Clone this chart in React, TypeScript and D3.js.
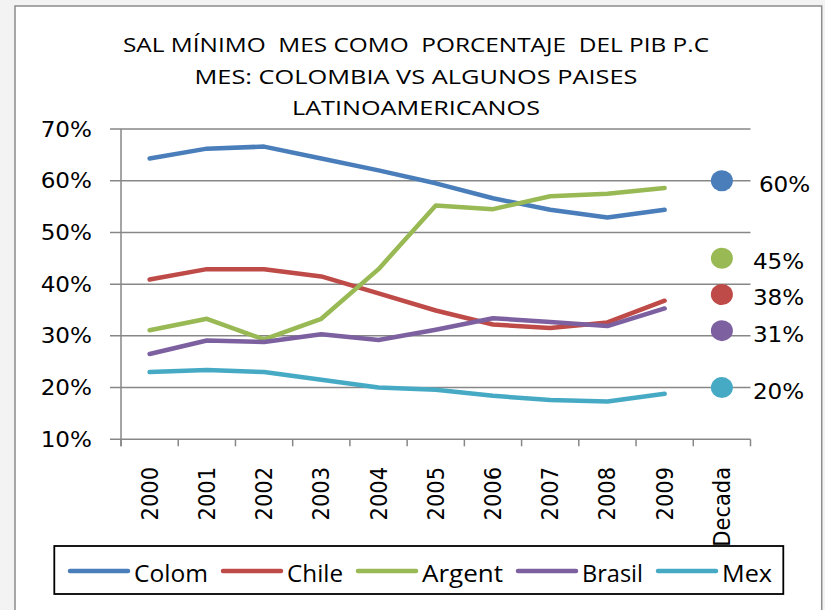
import * as d3 from "d3";

// categorias del eje x
const years = ["2000", "2001", "2002", "2003", "2004", "2005", "2006", "2007", "2008", "2009"];
const categories = [...years, "Decada"];

// valores en %
const colom = [64.3, 66.2, 66.6, 64.3, 62.0, 59.5, 56.6, 54.4, 52.9, 54.4];
const chile = [40.9, 42.9, 42.9, 41.5, 38.2, 34.9, 32.2, 31.5, 32.6, 36.8];
const argent = [31.1, 33.3, 29.3, 33.3, 42.9, 55.2, 54.5, 57.0, 57.5, 58.6];
const brasil = [26.5, 29.1, 28.8, 30.3, 29.2, 31.2, 33.4, 32.7, 31.9, 35.3];
const mex = [23.0, 23.4, 23.0, 21.5, 20.0, 19.6, 18.4, 17.6, 17.3, 18.8];

const seriesNames = ["Colom", "Chile", "Argent", "Brasil", "Mex"];
const seriesColors = ["#4a7ebb", "#be4b48", "#98b954", "#7d60a0", "#46aac5"];

// promedio de la decada (puntos a la derecha)
const decadaNames = ["Colom", "Argent", "Chile", "Brasil", "Mex"];
const decadaValues = [60, 45, 38, 31, 20];

const yTicks = [10, 20, 30, 40, 50, 60, 70];

const titleLines = [
  "SAL MÍNIMO  MES COMO  PORCENTAJE  DEL PIB P.C",
  "MES: COLOMBIA VS ALGUNOS PAISES",
  "LATINOAMERICANOS",
];
const titleWidths = [586, 443, 248];

const legendTextWidths = [74, 56, 81, 61, 50];

export default function App() {
  const width = 825;
  const height = 610;
  const grid = "#878787";
  const axisFont = "'DejaVu Sans', Verdana, sans-serif";
  const textFont = "'Open Sans', 'Noto Sans', sans-serif";

  const x = d3.scaleBand().domain(categories).range([121, 750.5]);
  const y = d3.scaleLinear().domain([10, 70]).range([439.3, 129]);
  const cx = (c: string) => (x(c) as number) + x.bandwidth() / 2;

  const line = d3
    .line<number>()
    .x((_, i) => cx(years[i]))
    .y((d) => y(d));

  const series = [colom, chile, argent, brasil, mex];

  // posiciones de la leyenda (acumuladas)
  const legendLine = 58;
  const legendItems: { x: number; name: string; color: string; w: number }[] = [];
  let lx = 70;
  seriesNames.forEach((name, i) => {
    legendItems.push({ x: lx, name, color: seriesColors[i], w: legendTextWidths[i] });
    lx += legendLine + 6 + legendTextWidths[i] + 15;
  });

  return (
    <svg
      width={width}
      height={height}
      style={{ position: "absolute", left: 0, top: 0 }}
    >
      <rect x={0} y={0} width={width} height={height} fill="#f3f3f3" />
      <rect
        x={15}
        y={6}
        width={806.7}
        height={640}
        fill="#ffffff"
        stroke="#8c8c8c"
        strokeWidth={1.5}
      />

      {/* titulo */}
      {titleLines.map((t, i) => (
        <text
          key={i}
          x={416}
          y={52 + i * 31.5}
          textAnchor="middle"
          fontFamily={textFont}
          fontSize={20}
          textLength={titleWidths[i]}
          lengthAdjust="spacingAndGlyphs"
          fill="#000"
          style={{ whiteSpace: "pre" }}
        >
          {t}
        </text>
      ))}

      {/* grilla y eje y */}
      {yTicks.map((t) => (
        <g key={t}>
          <line x1={110} x2={750.5} y1={y(t)} y2={y(t)} stroke={grid} strokeWidth={1.5} />
          <text
            transform={`translate(92,${y(t) + 7.5}) scale(1.1,1)`}
            textAnchor="end"
            fontFamily={axisFont}
            fontSize={21}
            fill="#000"
          >
            {t}%
          </text>
        </g>
      ))}
      <line x1={121} x2={121} y1={y(70)} y2={y(10) + 7} stroke={grid} strokeWidth={1.5} />

      {/* eje x */}
      {[...categories.map((c) => x(c) as number), 750.5].map((px, i) => (
        <line key={i} x1={px} x2={px} y1={y(10)} y2={y(10) + 7} stroke={grid} strokeWidth={1.5} />
      ))}
      {categories.map((c) => (
        <text
          key={c}
          transform={`translate(${cx(c) + 8},467) rotate(-90) scale(1,1.1)`}
          textAnchor="end"
          fontFamily={axisFont}
          fontSize={21}
          fill="#000"
        >
          {c}
        </text>
      ))}

      {/* series */}
      {series.map((s, i) => (
        <path
          key={seriesNames[i]}
          d={line(s) as string}
          fill="none"
          stroke={seriesColors[i]}
          strokeWidth={4.5}
          strokeLinecap="round"
          strokeLinejoin="round"
        />
      ))}

      {/* decada */}
      {decadaValues.map((v, i) => (
        <g key={decadaNames[i]}>
          <ellipse
            cx={cx("Decada")}
            cy={y(v)}
            rx={11}
            ry={10.5}
            fill={seriesColors[seriesNames.indexOf(decadaNames[i])]}
          />
          <text
            transform={`translate(${cx("Decada") + (i === 0 ? 37 : 31)},${y(v) + 11}) scale(1.1,1)`}
            fontFamily={axisFont}
            fontSize={21}
            fill="#000"
          >
            {v}%
          </text>
        </g>
      ))}

      {/* leyenda */}
      <rect x={54.3} y={546} width={729} height={48} fill="#fff" stroke="#000" strokeWidth={1.8} />
      {legendItems.map((d) => (
        <g key={d.name}>
          <line
            x1={d.x}
            x2={d.x + legendLine}
            y1={571}
            y2={571}
            stroke={d.color}
            strokeWidth={4.5}
            strokeLinecap="round"
          />
          <text
            x={d.x + legendLine + 6}
            y={581.7}
            fontFamily={textFont}
            fontSize={23}
            textLength={d.w}
            lengthAdjust="spacingAndGlyphs"
            fill="#000"
          >
            {d.name}
          </text>
        </g>
      ))}
    </svg>
  );
}
